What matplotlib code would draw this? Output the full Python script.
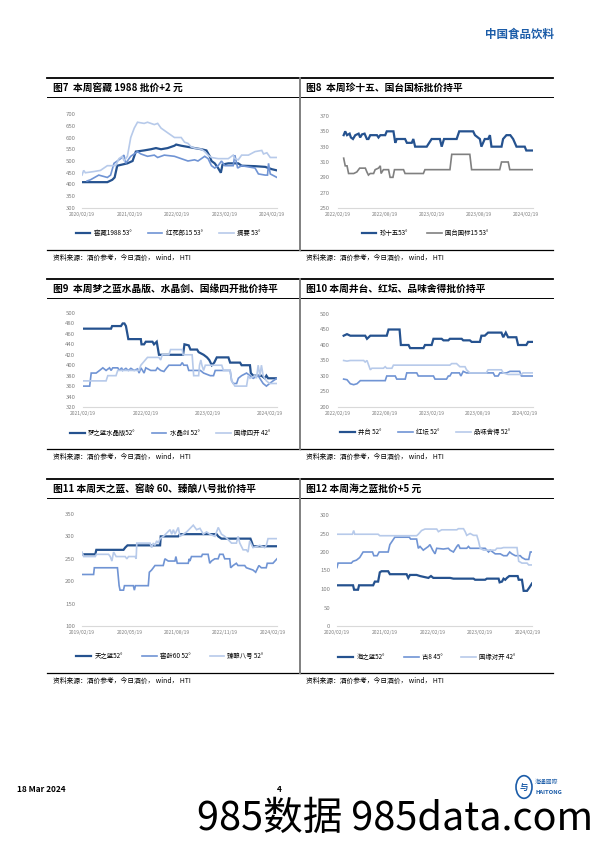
import matplotlib.pyplot as plt
import matplotlib.dates as mdates
from matplotlib.lines import Line2D
from matplotlib.patches import Circle
import pandas as pd

plt.rcParams['font.family'] = ['Noto Sans CJK SC', 'DejaVu Sans']

W, H = 596, 842
DARK = '#25528F'
MID = '#7094D4'
LIGHT = '#B7CAEA'
GREY = '#808080'
TICK_C = '#808080'

# ─────────────────────────────────────────────
# Data (price in yuan)
# ─────────────────────────────────────────────
# 图7
jiaocang_1988 = [
    ("2020-02-19", 410), ("2020-09-01", 410), ("2020-10-09", 420), ("2020-10-27", 430),
    ("2020-11-16", 480), ("2020-12-25", 485), ("2021-02-02", 490), ("2021-03-14", 500),
    ("2021-04-08", 540), ("2021-06-11", 545), ("2021-08-02", 550), ("2021-09-10", 555),
    ("2021-10-19", 550), ("2021-12-09", 555), ("2022-01-30", 565), ("2022-02-12", 570),
    ("2022-03-23", 565), ("2022-05-14", 560), ("2022-07-04", 555), ("2022-08-25", 550),
    ("2022-10-03", 545), ("2022-10-29", 520), ("2022-11-11", 500), ("2022-12-06", 490),
    ("2023-01-01", 470), ("2023-01-22", 450), ("2023-02-04", 485), ("2023-03-20", 490),
    ("2023-06-05", 490), ("2023-07-01", 480), ("2023-10-12", 478), ("2023-12-29", 475),
    ("2024-02-19", 465), ("2024-03-29", 460),
]
honghualang_15 = [
    ("2020-03-29", 415), ("2020-04-24", 420), ("2020-06-27", 440), ("2020-09-01", 430),
    ("2020-09-26", 440), ("2020-10-22", 490), ("2020-12-12", 510), ("2021-01-07", 525),
    ("2021-01-20", 490), ("2021-02-28", 520), ("2021-04-21", 540), ("2021-05-17", 530),
    ("2021-07-07", 520), ("2021-08-28", 525), ("2021-09-23", 515), ("2021-11-13", 525),
    ("2022-01-30", 520), ("2022-03-23", 510), ("2022-05-14", 500), ("2022-07-04", 505),
    ("2022-07-30", 500), ("2022-08-25", 510), ("2022-09-20", 520), ("2022-10-16", 510),
    ("2022-11-11", 480), ("2022-12-06", 470), ("2023-01-01", 480), ("2023-01-27", 500),
    ("2023-02-22", 480), ("2023-04-27", 480), ("2023-05-10", 525), ("2023-05-31", 470),
    ("2023-07-01", 480), ("2023-08-22", 475), ("2023-10-12", 470), ("2023-11-07", 445),
    ("2023-12-29", 440), ("2024-01-16", 440), ("2024-01-24", 490), ("2024-02-06", 445),
    ("2024-03-29", 430),
]
zhaiyao = [
    ("2020-02-19", 440), ("2020-03-03", 460), ("2020-03-16", 450), ("2020-05-19", 455),
    ("2020-07-10", 460), ("2020-09-01", 480), ("2020-11-04", 480), ("2020-11-29", 510),
    ("2020-12-25", 520), ("2021-01-07", 500), ("2021-02-02", 520), ("2021-02-15", 560),
    ("2021-02-28", 600), ("2021-03-27", 640), ("2021-04-21", 665), ("2021-06-11", 660),
    ("2021-07-07", 665), ("2021-08-28", 655), ("2021-09-23", 660), ("2021-10-19", 640),
    ("2021-12-09", 620), ("2022-01-30", 600), ("2022-03-23", 600), ("2022-04-18", 580),
    ("2022-05-14", 575), ("2022-06-08", 560), ("2022-07-04", 555), ("2022-08-25", 550),
    ("2022-09-20", 540), ("2022-10-16", 525), ("2022-11-11", 515), ("2023-01-01", 510),
    ("2023-03-20", 510), ("2023-04-27", 525), ("2023-05-10", 510), ("2023-06-05", 505),
    ("2023-07-01", 525), ("2023-08-22", 525), ("2023-10-12", 540), ("2023-12-03", 545),
    ("2023-12-16", 530), ("2024-01-11", 535), ("2024-02-06", 515), ("2024-03-29", 515),
]

# 图8
zhen_15 = [
    ("2022-03-13", 345), ("2022-03-19", 350), ("2022-03-26", 345), ("2022-04-05", 347),
    ("2022-04-10", 342), ("2022-04-18", 340), ("2022-04-27", 345), ("2022-05-10", 347),
    ("2022-05-16", 342), ("2022-05-23", 346), ("2022-06-02", 347), ("2022-06-11", 340),
    ("2022-06-17", 340), ("2022-06-24", 345), ("2022-07-20", 345), ("2022-07-26", 342),
    ("2022-08-02", 345), ("2022-08-21", 345), ("2022-08-27", 350), ("2022-09-22", 350),
    ("2022-09-29", 335), ("2022-10-05", 340), ("2022-11-06", 340), ("2022-11-13", 335),
    ("2022-12-02", 335), ("2022-12-08", 340), ("2022-12-15", 330), ("2023-01-29", 330),
    ("2023-02-17", 340), ("2023-03-21", 340), ("2023-03-28", 330), ("2023-04-06", 340),
    ("2023-05-25", 340), ("2023-06-04", 350), ("2023-07-28", 350), ("2023-08-04", 345),
    ("2023-08-23", 340), ("2023-08-29", 330), ("2023-09-11", 340), ("2023-09-24", 340),
    ("2023-10-01", 345), ("2023-10-07", 330), ("2023-11-15", 330), ("2023-11-21", 340),
    ("2023-12-04", 345), ("2023-12-19", 345), ("2023-12-30", 340), ("2024-01-12", 330),
    ("2024-02-13", 330), ("2024-02-19", 325), ("2024-03-16", 325),
]
guotai_15 = [
    ("2022-03-13", 315), ("2022-03-19", 305), ("2022-03-26", 305), ("2022-04-01", 295),
    ("2022-04-21", 295), ("2022-05-03", 297), ("2022-05-14", 302), ("2022-06-05", 302),
    ("2022-06-11", 297), ("2022-06-17", 293), ("2022-06-24", 295), ("2022-07-07", 295),
    ("2022-07-13", 300), ("2022-07-26", 302), ("2022-08-02", 305), ("2022-08-05", 295),
    ("2022-08-14", 300), ("2022-09-03", 300), ("2022-09-09", 290), ("2022-09-20", 290),
    ("2022-09-26", 300), ("2022-10-31", 300), ("2022-11-06", 295), ("2023-01-16", 295),
    ("2023-01-22", 300), ("2023-04-29", 300), ("2023-05-06", 320), ("2023-07-15", 320),
    ("2023-07-22", 300), ("2023-11-08", 300), ("2023-11-15", 310), ("2023-12-11", 310),
    ("2023-12-17", 300), ("2024-03-16", 300),
]

# 图9
mzl_shuijing = [
    ("2021-02-19", 470), ("2021-08-02", 470), ("2021-08-08", 475), ("2021-09-29", 475),
    ("2021-10-09", 480), ("2021-10-19", 480), ("2021-10-28", 475), ("2021-11-11", 450),
    ("2022-01-23", 450), ("2022-01-27", 440), ("2022-02-11", 440), ("2022-02-21", 445),
    ("2022-04-01", 445), ("2022-04-10", 440), ("2022-04-26", 445), ("2022-05-09", 420),
    ("2022-09-27", 420), ("2022-10-05", 440), ("2022-10-30", 438), ("2022-11-09", 430),
    ("2022-12-18", 430), ("2022-12-27", 425), ("2023-01-25", 420), ("2023-02-14", 415),
    ("2023-02-27", 410), ("2023-03-14", 400), ("2023-03-28", 405), ("2023-04-12", 415),
    ("2023-06-19", 415), ("2023-06-29", 405), ("2023-08-26", 405), ("2023-09-04", 400),
    ("2023-10-23", 400), ("2023-10-28", 385), ("2023-11-11", 380), ("2023-12-29", 380),
    ("2024-01-18", 375), ("2024-01-27", 380), ("2024-02-06", 375), ("2024-03-29", 375),
]
shuijingjian = [
    ("2021-02-19", 360), ("2021-03-30", 360), ("2021-04-08", 385), ("2021-05-07", 385),
    ("2021-05-27", 390), ("2021-06-15", 395), ("2021-07-04", 390), ("2021-07-24", 395),
    ("2021-08-02", 390), ("2021-08-12", 395), ("2021-09-10", 395), ("2021-09-20", 390),
    ("2021-10-03", 395), ("2021-10-09", 390), ("2021-10-28", 394), ("2021-11-11", 390),
    ("2021-11-26", 394), ("2021-12-15", 390), ("2022-01-04", 393), ("2022-01-13", 385),
    ("2022-01-23", 395), ("2022-02-02", 390), ("2022-02-11", 385), ("2022-02-21", 395),
    ("2022-03-22", 390), ("2022-04-20", 390), ("2022-04-30", 395), ("2022-05-19", 390),
    ("2022-06-07", 388), ("2022-06-23", 395), ("2022-07-06", 400), ("2022-09-12", 400),
    ("2022-09-22", 405), ("2022-10-01", 400), ("2022-10-21", 400), ("2022-10-30", 390),
    ("2023-01-06", 390), ("2023-01-25", 385), ("2023-03-05", 380), ("2023-03-24", 380),
    ("2023-04-03", 390), ("2023-06-29", 390), ("2023-07-08", 370), ("2023-07-18", 365),
    ("2023-08-06", 365), ("2023-08-16", 375), ("2023-09-04", 380), ("2023-10-03", 385),
    ("2023-10-23", 380), ("2023-11-11", 375), ("2023-12-10", 380), ("2023-12-29", 370),
    ("2024-01-08", 365), ("2024-01-27", 360), ("2024-02-15", 365), ("2024-03-06", 370),
    ("2024-03-29", 375),
]
guoyuan_sikai = [
    ("2021-02-19", 370), ("2021-07-04", 370), ("2021-07-14", 380), ("2021-08-31", 380),
    ("2021-09-10", 390), ("2022-01-13", 390), ("2022-01-23", 400), ("2022-03-03", 415),
    ("2022-05-09", 415), ("2022-05-19", 410), ("2022-05-28", 420), ("2022-07-06", 420),
    ("2022-07-16", 430), ("2022-09-22", 430), ("2022-09-27", 420), ("2022-11-19", 420),
    ("2022-11-28", 380), ("2022-12-27", 380), ("2023-01-01", 400), ("2023-01-09", 410),
    ("2023-01-15", 400), ("2023-01-25", 390), ("2023-02-04", 400), ("2023-05-11", 400),
    ("2023-05-21", 390), ("2023-06-29", 390), ("2023-07-08", 370), ("2023-07-27", 360),
    ("2023-10-03", 360), ("2023-10-13", 380), ("2023-10-23", 375), ("2023-11-21", 380),
    ("2023-11-30", 375), ("2023-12-10", 400), ("2023-12-20", 380), ("2023-12-29", 400),
    ("2024-01-08", 380), ("2024-01-27", 370), ("2024-02-15", 365), ("2024-03-29", 365),
]

# 图10
jingtai = [
    ("2022-03-13", 430), ("2022-03-26", 435), ("2022-04-08", 430), ("2022-06-05", 430),
    ("2022-06-12", 420), ("2022-06-25", 430), ("2022-08-28", 430), ("2022-09-04", 450),
    ("2022-10-17", 450), ("2022-10-22", 400), ("2022-11-21", 400), ("2022-11-27", 390),
    ("2023-01-18", 390), ("2023-01-24", 400), ("2023-02-19", 400), ("2023-02-26", 420),
    ("2023-03-30", 420), ("2023-04-06", 415), ("2023-04-25", 415), ("2023-05-01", 420),
    ("2023-06-16", 420), ("2023-06-22", 415), ("2023-07-18", 415), ("2023-07-25", 410),
    ("2023-08-26", 410), ("2023-09-01", 430), ("2023-09-14", 430), ("2023-09-27", 440),
    ("2023-11-18", 440), ("2023-11-25", 425), ("2023-12-05", 440), ("2023-12-14", 425),
    ("2024-01-15", 425), ("2024-01-22", 400), ("2024-02-23", 400), ("2024-03-01", 410),
    ("2024-03-20", 410),
]
hongtan = [
    ("2022-03-13", 290), ("2022-03-26", 288), ("2022-04-08", 275), ("2022-04-21", 272),
    ("2022-05-04", 275), ("2022-05-17", 285), ("2022-08-22", 285), ("2022-08-28", 300),
    ("2022-09-30", 300), ("2022-10-06", 290), ("2022-11-08", 290), ("2022-11-14", 310),
    ("2022-12-23", 310), ("2022-12-29", 300), ("2023-02-26", 300), ("2023-03-04", 290),
    ("2023-04-18", 290), ("2023-04-25", 300), ("2023-05-01", 300), ("2023-05-08", 310),
    ("2023-06-07", 310), ("2023-06-13", 300), ("2023-06-22", 315), ("2023-07-05", 310),
    ("2023-10-17", 310), ("2023-10-23", 300), ("2023-11-05", 300), ("2023-11-12", 310),
    ("2023-12-08", 310), ("2023-12-21", 315), ("2024-01-28", 315), ("2024-02-04", 300),
    ("2024-03-20", 300),
]
pinwei_shede = [
    ("2022-03-13", 350), ("2022-03-26", 348), ("2022-04-08", 350), ("2022-05-30", 350),
    ("2022-06-05", 345), ("2022-06-12", 350), ("2022-06-25", 320), ("2022-07-01", 325),
    ("2022-08-15", 325), ("2022-08-22", 330), ("2022-08-28", 325), ("2022-09-17", 325),
    ("2022-09-23", 335), ("2023-05-01", 335), ("2023-05-08", 340), ("2023-05-27", 340),
    ("2023-06-09", 330), ("2023-06-29", 330), ("2023-07-05", 320), ("2023-07-18", 310),
    ("2023-09-20", 310), ("2023-09-27", 320), ("2023-11-18", 320), ("2023-11-25", 310),
    ("2023-12-14", 305), ("2024-02-04", 305), ("2024-02-10", 310), ("2024-03-20", 310),
]

# 图11
tianzhilan = [
    ("2019-02-19", 260), ("2019-06-26", 260), ("2019-07-06", 270), ("2020-03-22", 270),
    ("2020-04-07", 275), ("2020-04-29", 280), ("2021-03-07", 280), ("2021-03-13", 300),
    ("2021-08-28", 300), ("2021-09-13", 305), ("2022-08-29", 305), ("2022-09-14", 300),
    ("2022-10-15", 295), ("2023-07-19", 295), ("2023-08-04", 285), ("2023-08-13", 278),
    ("2024-03-29", 278),
]
jiaoling_60 = [
    ("2019-02-19", 215), ("2019-06-10", 215), ("2019-06-17", 230), ("2020-01-24", 230),
    ("2020-02-09", 190), ("2020-02-18", 180), ("2020-03-22", 180), ("2020-03-31", 190),
    ("2020-06-24", 190), ("2020-07-04", 180), ("2020-07-14", 190), ("2020-11-14", 190),
    ("2020-11-24", 220), ("2020-12-16", 225), ("2021-01-17", 235), ("2021-04-06", 235),
    ("2021-04-22", 250), ("2021-05-24", 245), ("2021-07-27", 245), ("2021-08-05", 255),
    ("2021-08-18", 240), ("2021-12-01", 240), ("2021-12-10", 250), ("2021-12-17", 245),
    ("2022-01-01", 255), ("2022-04-07", 255), ("2022-04-16", 260), ("2022-06-09", 260),
    ("2022-06-25", 240), ("2022-07-11", 245), ("2022-08-12", 250), ("2022-09-13", 250),
    ("2022-09-28", 260), ("2022-10-30", 260), ("2022-11-15", 250), ("2023-01-02", 250),
    ("2023-01-11", 230), ("2023-02-03", 235), ("2023-03-06", 240), ("2023-03-22", 235),
    ("2023-05-25", 235), ("2023-06-10", 230), ("2023-08-12", 225), ("2023-09-07", 220),
    ("2023-10-08", 235), ("2023-10-31", 230), ("2023-12-17", 230), ("2023-12-27", 240),
    ("2024-02-19", 240), ("2024-03-29", 250),
]
zhenniang_8 = [
    ("2019-02-19", 265), ("2019-03-07", 255), ("2019-06-26", 255), ("2019-07-06", 260),
    ("2019-10-31", 260), ("2019-11-16", 255), ("2019-12-02", 245), ("2019-12-18", 265),
    ("2020-01-12", 255), ("2020-04-07", 255), ("2020-04-23", 250), ("2020-05-09", 255),
    ("2020-07-11", 255), ("2020-07-21", 250), ("2020-07-27", 285), ("2020-12-01", 285),
    ("2020-12-16", 275), ("2021-01-01", 285), ("2021-01-17", 280), ("2021-02-02", 290),
    ("2021-02-18", 285), ("2021-03-07", 295), ("2021-04-07", 300), ("2021-06-10", 315),
    ("2021-06-26", 305), ("2021-07-12", 315), ("2021-07-27", 305), ("2021-08-28", 320),
    ("2021-09-13", 300), ("2021-10-15", 305), ("2021-11-16", 310), ("2022-01-18", 325),
    ("2022-02-19", 315), ("2022-03-23", 318), ("2022-04-24", 305), ("2022-05-25", 310),
    ("2022-06-26", 305), ("2022-08-13", 300), ("2022-09-14", 320), ("2022-10-15", 305),
    ("2022-11-16", 300), ("2023-01-19", 285), ("2023-03-07", 285), ("2023-03-23", 300),
    ("2023-04-08", 285), ("2023-05-10", 270), ("2023-06-10", 270), ("2023-06-26", 265),
    ("2023-07-12", 290), ("2023-08-13", 275), ("2023-10-16", 280), ("2023-12-02", 275),
    ("2023-12-18", 280), ("2024-01-03", 295), ("2024-03-29", 295),
]

# 图12
haizhilan = [
    ("2020-02-19", 110), ("2020-06-21", 110), ("2020-06-29", 98), ("2020-07-29", 98),
    ("2020-08-06", 110), ("2020-11-22", 110), ("2020-12-05", 120), ("2020-12-30", 120),
    ("2021-01-12", 145), ("2021-01-25", 148), ("2021-03-17", 148), ("2021-03-30", 140),
    ("2021-08-05", 140), ("2021-08-18", 130), ("2021-08-31", 138), ("2021-10-21", 138),
    ("2021-11-16", 135), ("2021-12-24", 132), ("2022-01-19", 130), ("2022-02-08", 135),
    ("2022-02-26", 130), ("2022-07-04", 130), ("2022-07-30", 128), ("2022-12-31", 128),
    ("2023-01-12", 125), ("2023-03-30", 125), ("2023-04-12", 128), ("2023-07-11", 128),
    ("2023-07-19", 118), ("2023-08-06", 120), ("2023-08-18", 128), ("2023-08-31", 125),
    ("2023-09-13", 130), ("2023-10-01", 135), ("2023-12-04", 135), ("2023-12-12", 125),
    ("2024-01-06", 125), ("2024-01-19", 95), ("2024-02-14", 95), ("2024-03-05", 105),
    ("2024-03-23", 115),
]
gu_8 = [
    ("2020-02-19", 158), ("2020-02-27", 170), ("2020-06-08", 170), ("2020-06-21", 175),
    ("2020-07-17", 178), ("2020-08-11", 185), ("2020-09-06", 200), ("2020-11-17", 200),
    ("2020-11-27", 190), ("2020-12-23", 190), ("2021-01-07", 200), ("2021-03-17", 200),
    ("2021-03-30", 220), ("2021-05-07", 240), ("2021-08-26", 240), ("2021-09-05", 235),
    ("2021-10-21", 235), ("2021-11-03", 210), ("2021-11-16", 215), ("2021-12-11", 205),
    ("2022-01-19", 215), ("2022-01-31", 220), ("2022-02-21", 205), ("2022-03-11", 195),
    ("2022-03-24", 210), ("2022-05-14", 208), ("2022-06-21", 210), ("2022-07-04", 205),
    ("2022-07-30", 200), ("2022-08-25", 215), ("2022-09-06", 220), ("2022-09-19", 210),
    ("2022-11-09", 210), ("2022-11-22", 215), ("2022-12-05", 210), ("2023-03-30", 210),
    ("2023-04-25", 200), ("2023-05-08", 205), ("2023-06-15", 195), ("2023-07-24", 195),
    ("2023-08-18", 190), ("2023-09-13", 190), ("2023-10-04", 200), ("2023-10-21", 195),
    ("2023-11-16", 190), ("2023-12-24", 190), ("2024-01-06", 185), ("2024-02-01", 180),
    ("2024-02-27", 180), ("2024-03-10", 200), ("2024-03-23", 200),
]
guoyuan_duikai = [
    ("2020-02-19", 248), ("2020-06-16", 248), ("2020-06-26", 258), ("2020-07-04", 248),
    ("2020-12-30", 248), ("2021-01-12", 244), ("2021-10-21", 244), ("2021-11-03", 248),
    ("2021-11-28", 258), ("2021-12-24", 262), ("2022-03-24", 262), ("2022-04-06", 255),
    ("2022-05-01", 260), ("2022-08-25", 260), ("2022-09-06", 263), ("2022-10-15", 263),
    ("2022-10-28", 255), ("2022-11-09", 245), ("2022-12-05", 250), ("2022-12-31", 245),
    ("2023-01-25", 245), ("2023-02-07", 230), ("2023-02-20", 210), ("2023-03-18", 205),
    ("2023-06-15", 205), ("2023-06-28", 210), ("2023-07-29", 210), ("2023-08-18", 212),
    ("2023-11-29", 212), ("2023-12-12", 175), ("2024-01-06", 170), ("2024-02-14", 170),
    ("2024-02-27", 165), ("2024-03-23", 165),
]

SOURCE = "资料来源：酒价参考，今日酒价， wind， HTI"

fig = plt.figure(figsize=(W / 100, H / 100), dpi=100)


def fx(x):
    return x / W


def fy(y):
    return 1 - y / H


def hline(x0, x1, y, lw, color='black'):
    fig.add_artist(Line2D([fx(x0), fx(x1)], [fy(y), fy(y)], lw=lw, color=color))


def panel(x0, x1, y_top, y_bot, title):
    hline(x0, x1, y_top, 1.3)
    fig.text(fx(x0 + 6), fy(y_top + 10), title, fontsize=7, fontweight='bold',
             va='center', ha='left')
    hline(x0, x1, y_top + 19, 0.7)
    hline(x0, x1, y_bot, 0.9)
    fig.text(fx(x0 + 6), fy(y_bot + 7.5), SOURCE, fontsize=4.9, va='center', ha='left')


def chart(box, series, xlim, xticks, ylim, ystep, ypad, leg_xy, colsp):
    x0, y0, x1, y1 = box
    ax = fig.add_axes([fx(x0), fy(y1), (x1 - x0) / W, (y1 - y0) / H])
    for data, color, lw, label in series:
        d = pd.DataFrame(data, columns=['date', 'price'])
        ax.plot(pd.to_datetime(d['date']), d['price'], color=color, lw=lw,
                label=label, solid_joinstyle='miter')
    ax.set_xlim(pd.Timestamp(xlim[0]), pd.Timestamp(xlim[1]))
    ax.set_ylim(*ylim)
    ax.set_xticks(pd.to_datetime(xticks))
    ax.xaxis.set_major_formatter(mdates.DateFormatter('%Y/%m/%d'))
    ax.set_yticks(range(ylim[0], ylim[1] + 1, ystep))
    for s in ['top', 'right', 'left']:
        ax.spines[s].set_visible(False)
    ax.spines['bottom'].set_color('#D9D9D9')
    ax.spines['bottom'].set_linewidth(0.8)
    ax.tick_params(axis='x', length=0, pad=3.2, labelsize=3.6, labelcolor=TICK_C)
    ax.tick_params(axis='y', length=0, pad=ypad, labelsize=4.3, labelcolor=TICK_C)
    ax.patch.set_alpha(0)
    ax.legend(loc='center', bbox_to_anchor=(fx(leg_xy[0]), fy(leg_xy[1])),
              bbox_transform=fig.transFigure, ncol=len(series), frameon=False,
              fontsize=4.6, handlelength=2.3, handletextpad=0.5,
              columnspacing=colsp, borderaxespad=0, borderpad=0)
    return ax


# ── row 1 ──
panel(47, 300, 78, 250, "图7  本周窖藏 1988 批价+2 元")
panel(300, 553, 78, 250, "图8  本周珍十五、国台国标批价持平")
chart((82, 114, 277, 208),
      [(jiaocang_1988, DARK, 1.6, "窖藏1988 53°"),
       (honghualang_15, MID, 1.2, "红花郎15 53°"),
       (zhaiyao, LIGHT, 1.2, "摘要 53°")],
      ("2020-02-19", "2024-03-29"),
      ["2020-02-19", "2021-02-19", "2022-02-19", "2023-02-19", "2024-02-19"],
      (300, 700), 50, 4.5, (168, 233), 2.6)
chart((338, 116, 533, 208),
      [(zhen_15, DARK, 1.6, "珍十五53°"),
       (guotai_15, GREY, 1.2, "国台国标15 53°")],
      ("2022-02-19", "2024-03-16"),
      ["2022-02-19", "2022-08-19", "2023-02-19", "2023-08-19", "2024-02-19"],
      (250, 370), 20, 6, (425, 233), 3.0)

# ── row 2 ──
panel(47, 300, 279, 449, "图9  本周梦之蓝水晶版、水晶剑、国缘四开批价持平")
panel(300, 553, 279, 449, "图10 本周井台、红坛、品味舍得批价持平")
chart((83, 313, 277, 407),
      [(mzl_shuijing, DARK, 1.6, "梦之蓝水晶版52°"),
       (shuijingjian, MID, 1.2, "水晶剑 52°"),
       (guoyuan_sikai, LIGHT, 1.2, "国缘四开 42°")],
      ("2021-02-19", "2024-03-29"),
      ["2021-02-19", "2022-02-19", "2023-02-19", "2024-02-19"],
      (320, 500), 20, 5.5, (170, 433), 2.6)
chart((338, 314, 533, 407),
      [(jingtai, DARK, 1.6, "井台 52°"),
       (hongtan, MID, 1.2, "红坛 52°"),
       (pinwei_shede, LIGHT, 1.2, "品味舍得 52°")],
      ("2022-02-19", "2024-03-20"),
      ["2022-02-19", "2022-08-19", "2023-02-19", "2023-08-19", "2024-02-19"],
      (200, 500), 50, 6, (425, 432), 2.6)

# ── row 3 ──
panel(47, 300, 479, 673, "图11 本周天之蓝、窖龄 60、臻酿八号批价持平")
panel(300, 553, 479, 673, "图12 本周海之蓝批价+5 元")
chart((82, 514, 277, 626),
      [(tianzhilan, DARK, 1.6, "天之蓝52°"),
       (jiaoling_60, MID, 1.2, "窖龄60 52°"),
       (zhenniang_8, LIGHT, 1.2, "臻酿八号 52°")],
      ("2019-02-19", "2024-03-29"),
      ["2019-02-19", "2020-05-19", "2021-08-19", "2022-11-19", "2024-02-19"],
      (100, 350), 50, 5, (170, 656), 3.0)
chart((337, 515, 532, 626),
      [(haizhilan, DARK, 1.6, "海之蓝52°"),
       (gu_8, MID, 1.2, "古8 45°"),
       (guoyuan_duikai, LIGHT, 1.2, "国缘对开 42°")],
      ("2020-02-19", "2024-03-23"),
      ["2020-02-19", "2021-02-19", "2022-02-19", "2023-02-19", "2024-02-19"],
      (0, 300), 50, 5, (427, 657), 3.0)

# vertical separators between the two columns
for y_top, y_bot in [(78, 250), (279, 449), (479, 673)]:
    fig.add_artist(Line2D([fx(300), fx(300)], [fy(y_top), fy(y_bot)], lw=1.4, color=GREY))

# ── page header / footer ──
fig.text(fx(554), fy(34), "中国食品饮料", fontsize=8.3, fontweight='bold',
         color='#1B5CA8', ha='right', va='center')
fig.text(fx(17), fy(789), "18 Mar 2024", fontsize=6, fontweight='bold', ha='left', va='center')
fig.text(fx(279), fy(789), "4", fontsize=6, fontweight='bold', ha='center', va='center')
fig.add_artist(Circle((fx(524), fy(787)), 8 / W, transform=fig.transFigure,
                      fill=False, ec='#1B5CA8', lw=1.2))
fig.text(fx(524), fy(787), "与", fontsize=6, fontweight='bold', color='#1B5CA8',
         ha='center', va='center')
fig.text(fx(535), fy(782), "海通國際", fontsize=4.2, color='#1B5CA8', ha='left', va='center')
fig.text(fx(535), fy(792), "HAITONG", fontsize=4.2, fontweight='bold', color='#1B5CA8',
         ha='left', va='center')
fig.text(fx(593), fy(819), "985数据 985data.com", fontsize=28.5, color='black',
         ha='right', va='center')

fig.savefig("out.png", dpi=100)
